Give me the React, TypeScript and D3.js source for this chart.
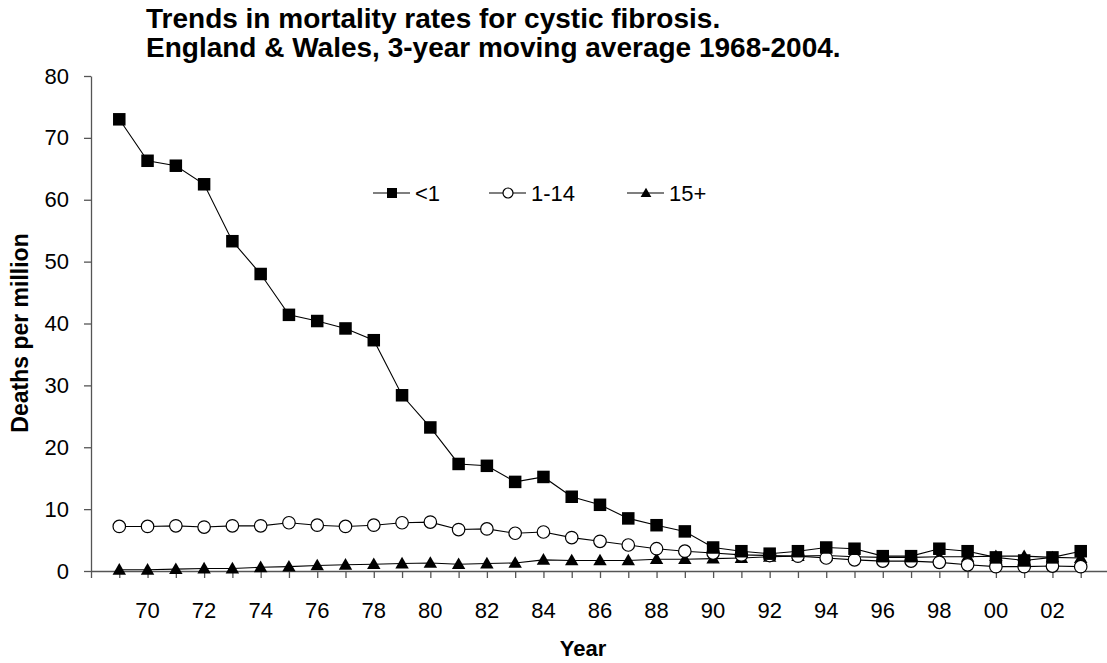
import { useEffect, useRef } from 'react';
import * as d3 from 'd3';

const W = 1107;
const H = 663;
const MARGIN = { top: 76, right: -2, bottom: 92, left: 91 };
const FONT = '"Liberation Sans", Arial, sans-serif';

const years = d3.range(1969, 2004);
// deaths per million, 3-year moving average
const under1 = [
  73.0, 66.3, 65.5, 62.5, 53.3, 48.0, 41.4, 40.4, 39.2, 37.3,
  28.4, 23.2, 17.3, 17.0, 14.4, 15.2, 12.0, 10.7, 8.5, 7.4,
  6.4, 3.8, 3.2, 2.8, 3.2, 3.8, 3.6, 2.4, 2.4, 3.6,
  3.2, 2.2, 1.7, 2.2, 3.2,
];
const age1to14 = [
  7.2, 7.2, 7.3, 7.1, 7.3, 7.3, 7.8, 7.4, 7.2, 7.4,
  7.8, 7.9, 6.7, 6.8, 6.1, 6.3, 5.4, 4.8, 4.2, 3.6,
  3.2, 2.9, 2.6, 2.5, 2.4, 2.1, 1.8, 1.6, 1.6, 1.4,
  1.0, 0.7, 0.7, 0.8, 0.7,
];
const age15plus = [
  0.2, 0.2, 0.3, 0.4, 0.4, 0.6, 0.7, 0.9, 1.0, 1.1,
  1.2, 1.3, 1.1, 1.2, 1.3, 1.8, 1.7, 1.7, 1.7, 1.9,
  1.9, 2.0, 2.1, 2.3, 2.4, 2.5, 2.3, 2.2, 2.2, 2.3,
  2.3, 2.4, 2.4, 2.2, 2.1,
];
const yTicks = [0, 10, 20, 30, 40, 50, 60, 70, 80];
const xTickYears = d3.range(1968, 2004);
const xLabelYears = d3.range(1970, 2003, 2);

const seriesList = [
  { name: '<1', values: under1, marker: 'square' },
  { name: '1-14', values: age1to14, marker: 'circle' },
  { name: '15+', values: age15plus, marker: 'triangle' },
];

function drawMarker(sel, type, size) {
  if (type === 'square') {
    sel.append('rect')
      .attr('x', -size / 2).attr('y', -size / 2)
      .attr('width', size).attr('height', size)
      .attr('fill', '#000');
  } else if (type === 'circle') {
    sel.append('circle')
      .attr('r', size / 2)
      .attr('fill', '#fff').attr('stroke', '#000').attr('stroke-width', 1.2);
  } else {
    const sym = d3.symbol().type(d3.symbolTriangle).size(size * size * 0.5);
    sel.append('path').attr('d', sym()).attr('transform', 'translate(0,1)').attr('fill', '#000');
  }
}

export default function App() {
  const svgRef = useRef(null);

  useEffect(() => {
    const svg = d3.select(svgRef.current);
    svg.selectAll('*').remove();

    const innerW = W - MARGIN.left - MARGIN.right;
    const innerH = H - MARGIN.top - MARGIN.bottom;

    const x = d3.scaleLinear().domain([1968, 2004]).range([0, innerW]);
    const y = d3.scaleLinear().domain([0, 80]).range([innerH, 0]);

    // Title
    svg.append('text')
      .attr('x', 146).attr('y', 28)
      .attr('font-family', FONT).attr('font-size', 28).attr('font-weight', 700)
      .text('Trends in mortality rates for cystic fibrosis.');
    svg.append('text')
      .attr('x', 146).attr('y', 57)
      .attr('font-family', FONT).attr('font-size', 28).attr('font-weight', 700)
      .text('England & Wales, 3-year moving average 1968-2004.');

    const g = svg.append('g').attr('transform', `translate(${MARGIN.left},${MARGIN.top})`);

    // Y axis
    const yAxis = g.append('g')
      .call(d3.axisLeft(y).tickValues(yTicks).tickSize(7).tickSizeOuter(0).tickPadding(15));
    yAxis.select('.domain').attr('stroke', '#555').attr('stroke-width', 1.3);
    yAxis.selectAll('.tick line').attr('stroke', '#555').attr('stroke-width', 1.3);
    yAxis.selectAll('.tick text')
      .attr('font-family', FONT).attr('font-size', 22).attr('fill', '#000');

    // X axis
    const xAxis = g.append('g')
      .attr('transform', `translate(0,${innerH})`)
      .call(d3.axisBottom(x).tickValues(xTickYears).tickSize(7).tickSizeOuter(0).tickFormat(() => ''));
    xAxis.select('.domain').attr('stroke', '#555').attr('stroke-width', 1.3);
    xAxis.selectAll('.tick line').attr('stroke', '#555').attr('stroke-width', 1.3);

    g.append('g').selectAll('text')
      .data(xLabelYears)
      .join('text')
      .attr('x', d => x(d))
      .attr('y', innerH + 47)
      .attr('text-anchor', 'middle')
      .attr('font-family', FONT).attr('font-size', 22)
      .text(d => String(d % 100).padStart(2, '0'));

    // Axis titles
    g.append('text')
      .attr('transform', 'rotate(-90)')
      .attr('x', -257).attr('y', -63)
      .attr('text-anchor', 'middle')
      .attr('font-family', FONT).attr('font-size', 23).attr('font-weight', 700)
      .text('Deaths per million');
    g.append('text')
      .attr('x', 492).attr('y', innerH + 85)
      .attr('text-anchor', 'middle')
      .attr('font-family', FONT).attr('font-size', 22).attr('font-weight', 700)
      .text('Year');

    // Lines, drawn back to front
    const line = d3.line().x(d => x(d[0])).y(d => y(d[1]));
    [...seriesList].reverse().forEach(s => {
      const pts = years.map((yr, i) => [yr, s.values[i]]);
      g.append('path').datum(pts).attr('d', line)
        .attr('fill', 'none').attr('stroke', '#000').attr('stroke-width', 1.1);
      const markers = g.append('g').selectAll('g')
        .data(pts)
        .join('g')
        .attr('transform', d => `translate(${x(d[0])},${y(d[1])})`);
      markers.each(function () {
        drawMarker(d3.select(this), s.marker, 12.5);
      });
    });

    // Legend
    const legendX = [373, 489, 627];
    const legend = svg.append('g').attr('transform', 'translate(0,193)');
    seriesList.forEach((s, i) => {
      const lg = legend.append('g').attr('transform', `translate(${legendX[i]},0)`);
      lg.append('line').attr('x1', 0).attr('x2', 37).attr('y1', 0).attr('y2', 0)
        .attr('stroke', '#000').attr('stroke-width', 1.1);
      const m = lg.append('g').attr('transform', 'translate(19,0)');
      drawMarker(m, s.marker, 10);
      lg.append('text')
        .attr('x', 42).attr('y', 8)
        .attr('font-family', FONT).attr('font-size', 22)
        .text(s.name);
    });
  }, []);

  return (
    <svg
      ref={svgRef}
      width={W}
      height={H}
      style={{ position: 'absolute', left: 0, top: 0, background: '#fff', display: 'block' }}
    />
  );
}
